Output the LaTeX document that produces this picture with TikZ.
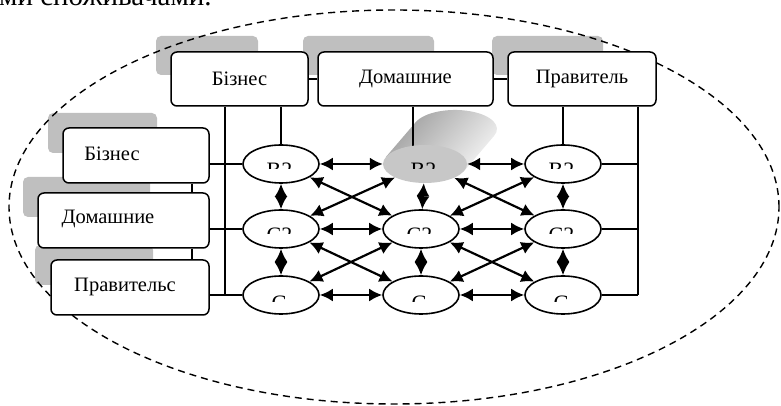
\documentclass[tikz,border=0pt]{standalone}
\usepackage{fontspec}
\setmainfont{Liberation Serif}
\usetikzlibrary{arrows.meta,calc,shapes.geometric}
\newcommand{\cutlabel}[4]{\begin{scope}\clip (#2-30,#3-5) rectangle (#2+30,#3+16);\node[lbl,anchor=base] (#1) at (#2,#3-13.6) {#4};\end{scope}}
\begin{document}
\begin{tikzpicture}[x=1pt,y=1pt,
  box/.style={draw, line width=1.5pt, rounded corners=6pt, fill=white, inner sep=0pt, font=\fontsize{20.5}{22}\selectfont},
  shadowbox/.style={fill=black!25, rounded corners=5pt, inner sep=0pt},
  ell/.style={draw, ellipse, line width=1.6pt, minimum width=76pt, minimum height=38pt, inner sep=0pt, fill=white},
  txt/.style={inner sep=0pt, font=\fontsize{20.5}{22}\selectfont},
  lbl/.style={inner sep=0pt, font=\fontsize{22}{24}\selectfont},
  conn/.style={line width=1.3pt},
  biarrow/.style={line width=2.2pt, {Latex[length=13pt,width=13pt]}-{Latex[length=13pt,width=13pt]}},
]
\useasboundingbox (0,0) rectangle (781,406);
% header text (cut off by the page)
\node[anchor=base west, inner sep=0pt, font=\fontsize{29}{31}\selectfont] (hdr) at (-1,400) {ми споживачами.};
% shadows
\node[shadowbox, minimum width=102pt, minimum height=39pt] (sTB) at (207,350.5) {};
\node[shadowbox, minimum width=131pt, minimum height=39pt] (sTD) at (368.5,350.5) {};
\node[shadowbox, minimum width=111pt, minimum height=39pt] (sTP) at (547.5,350.5) {};
\node[shadowbox, minimum width=109pt, minimum height=40pt] (sLB) at (102.5,273) {};
\node[shadowbox, minimum width=127pt, minimum height=40pt] (sLD) at (86.5,209) {};
\node[shadowbox, minimum width=118pt, minimum height=40pt] (sLP) at (94,141) {};
% dashed outline
\draw[dash pattern=on 7pt off 5pt, line width=1.4pt] (394,199) ellipse [x radius=385, y radius=197];
% boxes
\node[box, minimum width=137pt, minimum height=54pt] (TB) at (239.5,327) {Бізнес};
\node[box, minimum width=175pt, minimum height=54pt] (TD) at (405.5,327) {Домашние};
\node[box, minimum width=148pt, minimum height=54pt] (TP) at (582,327) {Правитель};
\node[box, minimum width=146pt, minimum height=55pt] (LB) at (136,250.5) {};
\node[box, minimum width=171pt, minimum height=55pt] (LD) at (123.5,185.5) {};
\node[box, minimum width=158pt, minimum height=55pt] (LP) at (130,118.5) {};
\node[txt] (tLB) at (112,252) {Бізнес};
\node[txt] (tLD) at (108,187) {Домашние};
\node[txt] (tLP) at (125,119) {Правительс};
% ellipses
\node[ell] (e11) at (281,242) {};
\node[ell] (e12) at (281,177) {};
\node[ell] (e13) at (281,111) {};
\node[ell] (e22) at (421,177) {};
\node[ell] (e23) at (421,111) {};
\node[ell] (e31) at (563,242) {};
\node[ell] (e32) at (563,177) {};
\node[ell] (e33) at (563,111) {};
% cylinder
\shade[top color=black!38, middle color=black!18, bottom color=black!4, shading angle=49]
  (385.8,248.9) -- (415.8,283.9) arc[start angle=158.8, end angle=-21.2, x radius=42, y radius=19] -- (464.2,235.1) -- cycle;
\coordinate (cylTop) at (413,259);
\draw[conn] (TD.south -| cylTop) -- (cylTop);
\node[ellipse, fill=black!22, minimum width=84pt, minimum height=38pt, inner sep=0pt] (e21) at (425,242) {};
% connectors
\coordinate (vL) at (225,111);
\coordinate (vR) at (638,111);
\coordinate (xl) at (192,150);
\draw[conn] (TB.east) -- (TD.west);
\draw[conn] (TD.east) -- (TP.west);
\draw[conn] (TB.south -| vL) -- (vL);
\draw[conn] (TP.south -| vR) -- (vR);
\draw[conn] (e11.north) -- (e11.north |- TB.south);
\draw[conn] (e31.north) -- (e31.north |- TP.south);
\draw[conn] (LB.south -| xl) -- (LD.north -| xl);
\draw[conn] (LD.south -| xl) -- (LP.north -| xl);
\draw[conn] (e11.west) -- (e11.west -| LB.east);
\draw[conn] (e12.west) -- (e12.west -| LD.east);
\draw[conn] (e13.west) -- (e13.west -| LP.east);
\draw[conn] (e31.east) -- (e31.east -| vR);
\draw[conn] (e32.east) -- (e32.east -| vR);
\draw[conn] (e33.east) -- (e33.east -| vR);
% arrows
\foreach \a/\b in {e11/e21,e21/e31,e12/e22,e22/e32,e13/e23,e23/e33,
                   e11/e12,e12/e13,e21/e22,e22/e23,e31/e32,e32/e33,
                   e11/e22,e12/e21,e12/e23,e13/e22,e21/e32,e22/e31,e22/e33,e23/e32}
  \draw[biarrow] (\a) -- (\b);
% clipped labels
\cutlabel{l11}{279.5}{242}{B2}
\cutlabel{l12}{279.5}{177}{C2}
\cutlabel{l13}{279.5}{109}{G}
\cutlabel{l21}{423.5}{242}{B2}
\cutlabel{l22}{419.5}{177}{C2}
\cutlabel{l23}{419.5}{109}{G}
\cutlabel{l31}{561.5}{242}{B2}
\cutlabel{l32}{561.5}{177}{C2}
\cutlabel{l33}{561.5}{109}{G}
\end{tikzpicture}
\end{document}
